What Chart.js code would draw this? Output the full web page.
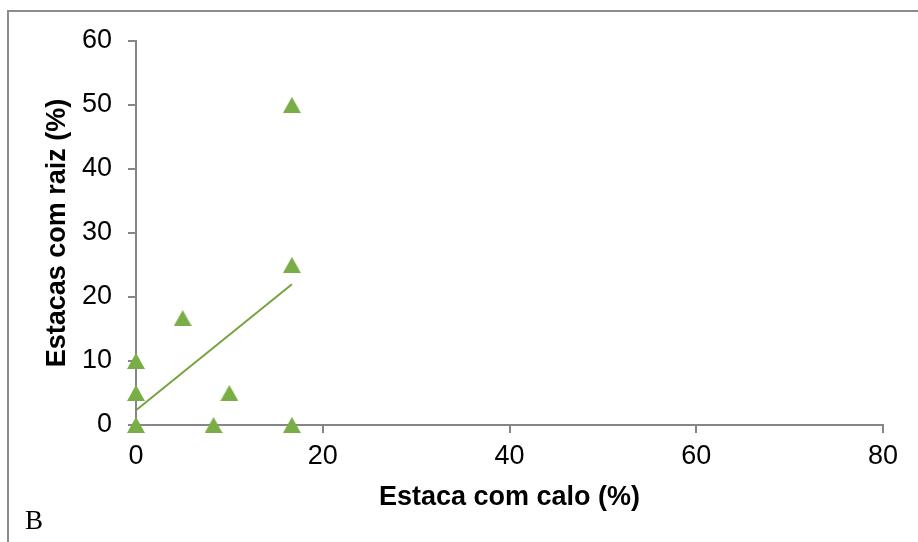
<!DOCTYPE html>
<html lang="pt">
<head>
    <meta charset="UTF-8">
    <title>Estacas com raiz x Estaca com calo</title>
    <script src="https://cdn.jsdelivr.net/npm/chart.js"></script>
    <style>
        html, body { margin: 0; padding: 0; background: #fff; overflow: hidden; }
        .frame {
            position: absolute; left: 7px; top: 10px;
            width: 1000px; height: 1000px;
            border: 2px solid #8c8c8c;
        }
        .wrap { position: absolute; left: 0; top: 0; width: 918px; height: 542px; }
        .panel-label {
            position: absolute; left: 25px; top: 507px;
            font-family: "Liberation Serif", "Times New Roman", serif;
            font-size: 27px; line-height: 27px; color: #000;
        }
    </style>
</head>
<body>
    <div class="frame"></div>
    <div class="wrap"><canvas id="chart" width="918" height="542"></canvas></div>
    <div class="panel-label">B</div>

    <script>
        // data
        const caloX = [0, 0, 0, 5, 8.3, 10, 16.7, 16.7, 16.7];
        const raizY = [0, 5, 10, 16.7, 0, 5, 0, 25, 50];
        const trendX = [0, 16.7];
        const trendY = [2.3, 22];
        const xTicks = [0, 20, 40, 60, 80];
        const yTicks = [0, 10, 20, 30, 40, 50, 60];

        const green = '#79ad45';
        const lineGreen = '#77a23d';
        const axisGray = '#868686';
        const font = "'Liberation Sans', Arial, sans-serif";

        // triangle marker centred on its own box (like Excel)
        const tri = document.createElement('canvas');
        tri.width = 18; tri.height = 16;
        const tc = tri.getContext('2d');
        tc.fillStyle = green;
        tc.beginPath();
        tc.moveTo(9, 0);
        tc.lineTo(18, 16);
        tc.lineTo(0, 16);
        tc.closePath();
        tc.fill();

        const points = caloX.map((x, i) => ({ x: x, y: raizY[i] }));
        const trend = trendX.map((x, i) => ({ x: x, y: trendY[i] }));

        new Chart(document.getElementById('chart'), {
            type: 'scatter',
            data: {
                datasets: [
                    {
                        type: 'line',
                        data: trend,
                        borderColor: lineGreen,
                        borderWidth: 2,
                        pointRadius: 0,
                        fill: false,
                        clip: false,
                        order: 2
                    },
                    {
                        data: points,
                        pointStyle: tri,
                        pointRadius: 9,
                        pointHoverRadius: 9,
                        clip: false,
                        order: 1
                    }
                ]
            },
            options: {
                responsive: false,
                animation: false,
                layout: { padding: { left: 0, top: 41, right: 35, bottom: 0 } },
                plugins: { legend: { display: false }, tooltip: { enabled: false } },
                scales: {
                    x: {
                        type: 'linear',
                        min: xTicks[0],
                        max: xTicks[xTicks.length - 1],
                        afterBuildTicks: s => { s.ticks = xTicks.map(v => ({ value: v })); },
                        afterFit: s => { s.height = 117; },
                        border: { color: axisGray, width: 2 },
                        grid: { drawOnChartArea: false, drawTicks: true, tickLength: 8, color: axisGray, lineWidth: 2 },
                        ticks: { padding: 7, color: '#000', font: { family: font, size: 27 } },
                        title: {
                            display: true,
                            text: 'Estaca com calo (%)',
                            color: '#000',
                            font: { family: font, size: 27, weight: 'bold' },
                            padding: { top: 0, bottom: 28 }
                        }
                    },
                    y: {
                        type: 'linear',
                        min: yTicks[0],
                        max: yTicks[yTicks.length - 1],
                        afterBuildTicks: s => { s.ticks = yTicks.map(v => ({ value: v })); },
                        afterFit: s => { s.width = 136; },
                        border: { color: axisGray, width: 2 },
                        grid: { drawOnChartArea: false, drawTicks: true, tickLength: 8, color: axisGray, lineWidth: 2 },
                        ticks: { padding: 16, color: '#000', font: { family: font, size: 27 } },
                        title: {
                            display: true,
                            text: 'Estacas com raiz (%)',
                            color: '#000',
                            font: { family: font, size: 27, weight: 'bold' },
                            padding: { top: 41, bottom: 0 }
                        }
                    }
                }
            }
        });
    </script>
</body>
</html>
